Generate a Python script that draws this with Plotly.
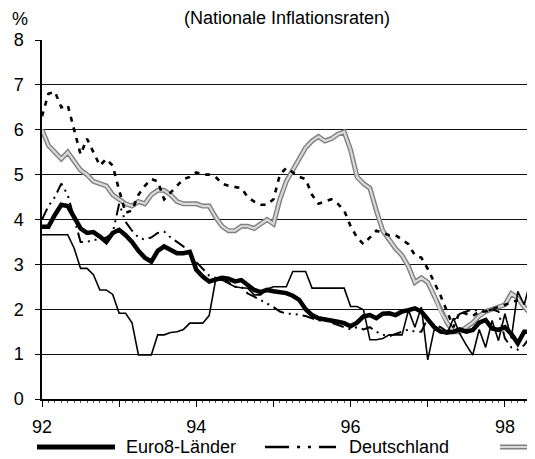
import plotly.graph_objects as go

# Monthly observations, Jan 1992 .. May 1998 (77 months)
start_year = 92
n_months = 77
t = [start_year + m / 12 for m in range(n_months)]

euro8 = [3.84, 3.84, 4.10, 4.33, 4.30, 4.03, 3.80, 3.70, 3.72, 3.62, 3.50, 3.70,
         3.77, 3.65, 3.50, 3.30, 3.15, 3.06, 3.30, 3.40, 3.32, 3.25, 3.25, 3.28,
         2.88, 2.73, 2.62, 2.65, 2.70, 2.68, 2.62, 2.65, 2.55, 2.43, 2.38, 2.43,
         2.40, 2.38, 2.36, 2.30, 2.21, 2.00, 1.87, 1.80, 1.78, 1.76, 1.72, 1.69,
         1.62, 1.70, 1.84, 1.87, 1.80, 1.90, 1.91, 1.87, 1.95, 1.98, 2.02, 1.95,
         1.76, 1.60, 1.50, 1.48, 1.50, 1.55, 1.50, 1.54, 1.70, 1.76, 1.57, 1.54,
         1.60, 1.45, 1.24, 1.50, 1.50]

deutschland = [4.00, 4.30, 4.50, 4.80, 4.55, 4.00, 3.50, 3.50, 3.55, 3.55, 3.60, 3.70,
               4.35, 3.95, 3.75, 3.60, 3.55, 3.60, 3.70, 3.73, 3.60, 3.50, 3.40, 3.20,
               3.05, 2.88, 2.75, 2.70, 2.72, 2.60, 2.50, 2.50, 2.35, 2.28, 2.20, 2.12,
               2.05, 1.95, 1.90, 1.90, 1.88, 1.85, 1.80, 1.75, 1.75, 1.70, 1.65, 1.60,
               1.55, 1.60, 1.55, 1.60, 1.50, 1.43, 1.40, 1.45, 1.50, 1.55, 1.50, 1.50,
               1.80, 1.65, 1.60, 1.50, 1.75, 1.90, 1.95, 2.00, 1.95, 1.95, 2.00, 1.95,
               1.35, 1.15, 1.10, 1.20, 1.40]

land_dotted = [6.30, 6.80, 6.85, 6.50, 6.55, 6.00, 5.45, 5.80, 5.50, 5.20, 5.35, 5.20,
               4.65, 4.15, 4.20, 4.55, 4.75, 4.90, 4.85, 4.45, 4.60, 4.75, 4.90, 4.95,
               5.05, 5.00, 5.00, 4.95, 4.80, 4.75, 4.72, 4.70, 4.50, 4.40, 4.33, 4.33,
               4.45, 5.00, 5.15, 5.05, 4.95, 4.90, 4.55, 4.35, 4.40, 4.45, 4.35, 4.20,
               3.85, 3.60, 3.45, 3.60, 3.75, 3.70, 3.65, 3.65, 3.55, 3.45, 3.20, 3.15,
               2.90, 2.60, 2.30, 1.95, 1.60, 1.95, 1.90, 1.85, 1.95, 1.95, 2.00, 2.05,
               2.10, 2.15, 2.20, None, None]

land_grey = [6.00, 5.65, 5.50, 5.35, 5.50, 5.30, 5.10, 5.00, 4.85, 4.80, 4.75, 4.55,
             4.45, 4.35, 4.30, 4.40, 4.35, 4.55, 4.65, 4.65, 4.55, 4.40, 4.35, 4.35,
             4.35, 4.30, 4.30, 4.05, 3.85, 3.75, 3.75, 3.85, 3.85, 3.80, 3.90, 4.00,
             3.90, 4.45, 4.85, 5.10, 5.35, 5.60, 5.75, 5.85, 5.75, 5.80, 5.90, 5.95,
             5.55, 4.95, 4.80, 4.70, 4.20, 3.75, 3.55, 3.35, 3.20, 2.95, 2.60, 2.70,
             2.60, 2.30, 1.95, 1.70, 1.50, 1.50, 1.60, 1.70, 1.85, 1.95, 2.00, 2.05,
             2.10, 2.35, 2.25, 2.05, 1.90]

land_thin = [3.66, 3.66, 3.66, 3.66, 3.66, 3.36, 2.91, 2.91, 2.77, 2.43, 2.43, 2.33,
             1.91, 1.91, 1.70, 0.98, 0.98, 0.98, 1.43, 1.43, 1.48, 1.50, 1.55, 1.69,
             1.69, 1.69, 1.86, 2.65, 2.65, 2.58, 2.50, 2.48, 2.47, 2.32, 2.32, 2.45,
             2.50, 2.50, 2.50, 2.84, 2.84, 2.84, 2.47, 2.47, 2.47, 2.47, 2.47, 2.47,
             2.06, 2.06, 1.99, 1.32, 1.32, 1.35, 1.43, 1.43, 1.43, 1.98, 1.60, 2.05,
             0.87, 1.55, 1.50, 1.45, 1.80, 1.45, 1.20, 0.98, 1.55, 1.15, 1.75, 1.30,
             1.90, 1.35, 2.40, 2.10, 2.65]

x_tickvals = [92, 93, 94, 95, 96, 97, 98]
x_ticktext = ["92", "", "94", "", "96", "", "98"]
y_tickvals = [0, 1, 2, 3, 4, 5, 6, 7, 8]
legend_labels = ["Euro8-Länder", "Deutschland"]

FONT = "Liberation Sans, Arial, sans-serif"
FS = 18
DASHDOT = "12px,5px,2px,5px,2px,5px"

# The page body has an 8px margin; the figure is sized to fill the rest of the window.
OFF = 8
W, H = 535 - OFF, 459 - OFF
ML, MR, MT = 42 - OFF, 0, 40 - OFF
PW = W - ML - MR
PH = 359
MB = H - MT - PH


def px_x(p):
    """page pixel x -> paper x"""
    return (p - OFF - ML) / PW


def px_y(p):
    """page pixel y -> paper y"""
    return (MT + PH - (p - OFF)) / PH


fig = go.Figure()

# grey series: dark outline + light core
fig.add_trace(go.Scatter(x=t, y=land_grey, mode="lines", showlegend=False,
                         line=dict(color="#808080", width=5), hoverinfo="skip"))
fig.add_trace(go.Scatter(x=t, y=land_grey, mode="lines", showlegend=False, name="Land C",
                         line=dict(color="#dadada", width=2.2)))
fig.add_trace(go.Scatter(x=t, y=land_dotted, mode="lines", showlegend=False, name="Land B",
                         line=dict(color="black", width=2.6, dash="5px,6px")))
fig.add_trace(go.Scatter(x=t, y=land_thin, mode="lines", showlegend=False, name="Land D",
                         line=dict(color="black", width=1.6)))
fig.add_trace(go.Scatter(x=t, y=deutschland, mode="lines", name=legend_labels[1],
                         showlegend=False, line=dict(color="black", width=2, dash=DASHDOT)))
fig.add_trace(go.Scatter(x=t, y=euro8, mode="lines", name=legend_labels[0],
                         showlegend=False, line=dict(color="black", width=4.5)))

ly = px_y(447)
shapes = [
    dict(type="line", xref="paper", yref="paper", x0=px_x(37), x1=px_x(115), y0=ly, y1=ly,
         line=dict(color="black", width=5)),
    dict(type="line", xref="paper", yref="paper", x0=px_x(265), x1=px_x(336), y0=ly, y1=ly,
         line=dict(color="black", width=2.5, dash="24px,8px,3px,8px,3px,8px")),
    dict(type="line", xref="paper", yref="paper", x0=px_x(500), x1=px_x(540), y0=ly, y1=ly,
         line=dict(color="#808080", width=5)),
    dict(type="line", xref="paper", yref="paper", x0=px_x(500), x1=px_x(540), y0=ly, y1=ly,
         line=dict(color="#dadada", width=2.2)),
]

annotations = [
    dict(text="%", xref="paper", yref="paper", x=px_x(20), y=px_y(19),
         xanchor="center", yanchor="middle", showarrow=False, font=dict(size=FS)),
    dict(text=legend_labels[0], xref="paper", yref="paper", x=px_x(124), y=ly,
         xanchor="left", yanchor="middle", showarrow=False, font=dict(size=FS)),
    dict(text=legend_labels[1], xref="paper", yref="paper", x=px_x(347), y=ly,
         xanchor="left", yanchor="middle", showarrow=False, font=dict(size=FS)),
]

fig.update_layout(
    width=W, height=H,
    margin=dict(l=ML, r=MR, t=MT, b=MB),
    paper_bgcolor="white", plot_bgcolor="white",
    font=dict(family=FONT, size=FS, color="black"),
    title=dict(text="(Nationale Inflationsraten)", x=(287 - OFF) / W,
               xanchor="center", y=1 - (18 - OFF) / H, yanchor="middle",
               font=dict(family=FONT, size=FS)),
    showlegend=False,
    shapes=shapes,
    annotations=annotations,
)

fig.update_xaxes(range=[92, 98.39], tickvals=x_tickvals, ticktext=x_ticktext,
                 automargin=False,
                 showgrid=False, zeroline=False, showline=True, linecolor="black",
                 linewidth=1.5, ticks="outside", ticklen=6, tickwidth=1.2,
                 tickcolor="black", ticklabelstandoff=5,
                 minor=dict(ticks="outside", ticklen=2, dtick=1 / 12, tick0=92,
                            tickcolor="#555", showgrid=False),
                 tickfont=dict(family=FONT, size=FS))
fig.update_yaxes(range=[0, 8], tickvals=y_tickvals, showgrid=True, automargin=False,
                 gridcolor="#111", gridwidth=1, zeroline=False, showline=True,
                 linecolor="black", linewidth=1.5, ticks="outside", ticklen=5,
                 tickcolor="black", ticklabelstandoff=8,
                 tickfont=dict(family=FONT, size=FS))

fig.write_html("out.html")
